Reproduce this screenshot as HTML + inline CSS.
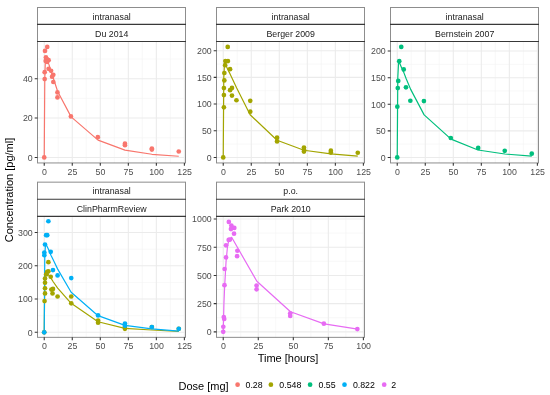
<!DOCTYPE html><html><head><meta charset="utf-8"><style>html,body{margin:0;padding:0;background:#fff;width:550px;height:395px;overflow:hidden}svg{display:block;will-change:transform}</style></head><body>
<svg width="550" height="395" viewBox="0 0 550 395" font-family='"Liberation Sans", sans-serif'>
<rect width="550" height="395" fill="#fff"/>
<clipPath id="c00"><rect x="37.5" y="41.45" width="148" height="121.5"/></clipPath>
<path d="M58.24 41.45V162.95M86.27 41.45V162.95M114.3 41.45V162.95M142.33 41.45V162.95M170.36 41.45V162.95M37.5 137.74H185.5M37.5 98.36H185.5M37.5 58.98H185.5" stroke="#F4F4F4" stroke-width="0.6" fill="none"/>
<path d="M44.23 41.45V162.95M72.26 41.45V162.95M100.29 41.45V162.95M128.32 41.45V162.95M156.35 41.45V162.95M184.38 41.45V162.95M37.5 157.43H185.5M37.5 118.05H185.5M37.5 78.67H185.5" stroke="#EBEBEB" stroke-width="1.07" fill="none"/>
<g clip-path="url(#c00)">
<path d="M44.23 157.43 L44.79 78.67 L45.35 60.95 L45.91 57.01 L46.47 57.01 L47.59 59.97 L48.71 63.91 L50.95 70.8 L53.2 77.69 L57.68 91.47 L71.14 116.87 L98.05 140.1 L124.95 150.14 L151.86 154.28 L178.77 156.25" stroke="#F8766D" stroke-width="1.2" fill="none" stroke-linejoin="round"/>
<circle cx="44.23" cy="157.43" r="2.35" fill="#F8766D"/>
<circle cx="47.25" cy="46.97" r="2.35" fill="#F8766D"/>
<circle cx="45.01" cy="50.91" r="2.35" fill="#F8766D"/>
<circle cx="45.91" cy="57.41" r="2.35" fill="#F8766D"/>
<circle cx="46.81" cy="58.98" r="2.35" fill="#F8766D"/>
<circle cx="48.6" cy="60.16" r="2.35" fill="#F8766D"/>
<circle cx="45.68" cy="60.95" r="2.35" fill="#F8766D"/>
<circle cx="47.14" cy="61.94" r="2.35" fill="#F8766D"/>
<circle cx="44.68" cy="72.17" r="2.35" fill="#F8766D"/>
<circle cx="44.68" cy="79.07" r="2.35" fill="#F8766D"/>
<circle cx="48.6" cy="68.83" r="2.35" fill="#F8766D"/>
<circle cx="51.07" cy="70.8" r="2.35" fill="#F8766D"/>
<circle cx="53.31" cy="74.73" r="2.35" fill="#F8766D"/>
<circle cx="52.08" cy="76.7" r="2.35" fill="#F8766D"/>
<circle cx="53.31" cy="82.02" r="2.35" fill="#F8766D"/>
<circle cx="57.46" cy="92.45" r="2.35" fill="#F8766D"/>
<circle cx="57.46" cy="97.38" r="2.35" fill="#F8766D"/>
<circle cx="70.91" cy="116.47" r="2.35" fill="#F8766D"/>
<circle cx="97.82" cy="137.15" r="2.35" fill="#F8766D"/>
<circle cx="124.95" cy="143.65" r="2.35" fill="#F8766D"/>
<circle cx="124.95" cy="145.22" r="2.35" fill="#F8766D"/>
<circle cx="151.86" cy="148.57" r="2.35" fill="#F8766D"/>
<circle cx="151.86" cy="149.55" r="2.35" fill="#F8766D"/>
<circle cx="178.77" cy="151.52" r="2.35" fill="#F8766D"/>
</g>
<rect x="37.5" y="7.5" width="148" height="155.45" fill="none" stroke="#333333" stroke-opacity="0.56" stroke-width="1"/>
<path d="M37 24.4H186M37 41.45H186" stroke="#383838" stroke-width="1.1" fill="none"/>
<text x="111.7" y="19.7" font-size="8.8" fill="#1A1A1A" text-anchor="middle">intranasal</text>
<text x="111.7" y="36.67" font-size="8.8" fill="#1A1A1A" text-anchor="middle">Du 2014</text>
<text x="44.43" y="174.85" font-size="8.8" fill="#4D4D4D" text-anchor="middle">0</text>
<text x="72.46" y="174.85" font-size="8.8" fill="#4D4D4D" text-anchor="middle">25</text>
<text x="100.49" y="174.85" font-size="8.8" fill="#4D4D4D" text-anchor="middle">50</text>
<text x="128.52" y="174.85" font-size="8.8" fill="#4D4D4D" text-anchor="middle">75</text>
<text x="156.55" y="174.85" font-size="8.8" fill="#4D4D4D" text-anchor="middle">100</text>
<text x="184.58" y="174.85" font-size="8.8" fill="#4D4D4D" text-anchor="middle">125</text>
<text x="32.7" y="160.78" font-size="8.8" fill="#4D4D4D" text-anchor="end">0</text>
<text x="32.7" y="121.4" font-size="8.8" fill="#4D4D4D" text-anchor="end">20</text>
<text x="32.7" y="82.02" font-size="8.8" fill="#4D4D4D" text-anchor="end">40</text>
<path d="M44.23 162.95V165.75M72.26 162.95V165.75M100.29 162.95V165.75M128.32 162.95V165.75M156.35 162.95V165.75M184.38 162.95V165.75M34.7 157.43H37.5M34.7 118.05H37.5M34.7 78.67H37.5" stroke="#333333" stroke-width="1.07" fill="none"/>
<clipPath id="c10"><rect x="216.5" y="41.45" width="148" height="121.5"/></clipPath>
<path d="M237.24 41.45V162.95M265.27 41.45V162.95M293.3 41.45V162.95M321.33 41.45V162.95M349.36 41.45V162.95M216.5 144.09H364.5M216.5 117.41H364.5M216.5 90.73H364.5M216.5 64.05H364.5" stroke="#F4F4F4" stroke-width="0.6" fill="none"/>
<path d="M223.23 41.45V162.95M251.26 41.45V162.95M279.29 41.45V162.95M307.32 41.45V162.95M335.35 41.45V162.95M363.38 41.45V162.95M216.5 157.43H364.5M216.5 130.75H364.5M216.5 104.07H364.5M216.5 77.39H364.5M216.5 50.71H364.5" stroke="#EBEBEB" stroke-width="1.07" fill="none"/>
<g clip-path="url(#c10)">
<path d="M223.23 157.43 L223.79 77.39 L224.35 66.72 L224.91 64.05 L225.47 64.05 L226.59 66.72 L227.71 69.38 L229.95 73.65 L232.2 78.45 L236.68 88.06 L250.14 114.74 L277.05 140.3 L303.95 150.22 L330.86 153.91 L357.77 156.09" stroke="#A3A500" stroke-width="1.2" fill="none" stroke-linejoin="round"/>
<circle cx="223.23" cy="157.43" r="2.35" fill="#A3A500"/>
<circle cx="227.71" cy="46.97" r="2.35" fill="#A3A500"/>
<circle cx="225.36" cy="61.11" r="2.35" fill="#A3A500"/>
<circle cx="227.94" cy="61.11" r="2.35" fill="#A3A500"/>
<circle cx="225.13" cy="65.22" r="2.35" fill="#A3A500"/>
<circle cx="230.07" cy="69.22" r="2.35" fill="#A3A500"/>
<circle cx="224.35" cy="73.01" r="2.35" fill="#A3A500"/>
<circle cx="224.35" cy="80.43" r="2.35" fill="#A3A500"/>
<circle cx="223.9" cy="88.11" r="2.35" fill="#A3A500"/>
<circle cx="230.07" cy="90.14" r="2.35" fill="#A3A500"/>
<circle cx="231.97" cy="87.9" r="2.35" fill="#A3A500"/>
<circle cx="223.9" cy="95.1" r="2.35" fill="#A3A500"/>
<circle cx="231.97" cy="95.53" r="2.35" fill="#A3A500"/>
<circle cx="236.46" cy="100.23" r="2.35" fill="#A3A500"/>
<circle cx="250.25" cy="100.81" r="2.35" fill="#A3A500"/>
<circle cx="223.9" cy="107.32" r="2.35" fill="#A3A500"/>
<circle cx="250.25" cy="111.7" r="2.35" fill="#A3A500"/>
<circle cx="277.05" cy="137.63" r="2.35" fill="#A3A500"/>
<circle cx="277.05" cy="141.47" r="2.35" fill="#A3A500"/>
<circle cx="303.95" cy="147.5" r="2.35" fill="#A3A500"/>
<circle cx="303.95" cy="149.42" r="2.35" fill="#A3A500"/>
<circle cx="303.95" cy="151.61" r="2.35" fill="#A3A500"/>
<circle cx="330.86" cy="150.7" r="2.35" fill="#A3A500"/>
<circle cx="330.86" cy="152.62" r="2.35" fill="#A3A500"/>
<circle cx="357.77" cy="152.73" r="2.35" fill="#A3A500"/>
</g>
<rect x="216.5" y="7.5" width="148" height="155.45" fill="none" stroke="#333333" stroke-opacity="0.56" stroke-width="1"/>
<path d="M216 24.4H365M216 41.45H365" stroke="#383838" stroke-width="1.1" fill="none"/>
<text x="290.7" y="19.7" font-size="8.8" fill="#1A1A1A" text-anchor="middle">intranasal</text>
<text x="290.7" y="36.67" font-size="8.8" fill="#1A1A1A" text-anchor="middle">Berger 2009</text>
<text x="223.43" y="174.85" font-size="8.8" fill="#4D4D4D" text-anchor="middle">0</text>
<text x="251.46" y="174.85" font-size="8.8" fill="#4D4D4D" text-anchor="middle">25</text>
<text x="279.49" y="174.85" font-size="8.8" fill="#4D4D4D" text-anchor="middle">50</text>
<text x="307.52" y="174.85" font-size="8.8" fill="#4D4D4D" text-anchor="middle">75</text>
<text x="335.55" y="174.85" font-size="8.8" fill="#4D4D4D" text-anchor="middle">100</text>
<text x="363.58" y="174.85" font-size="8.8" fill="#4D4D4D" text-anchor="middle">125</text>
<text x="211.7" y="160.78" font-size="8.8" fill="#4D4D4D" text-anchor="end">0</text>
<text x="211.7" y="134.1" font-size="8.8" fill="#4D4D4D" text-anchor="end">50</text>
<text x="211.7" y="107.42" font-size="8.8" fill="#4D4D4D" text-anchor="end">100</text>
<text x="211.7" y="80.74" font-size="8.8" fill="#4D4D4D" text-anchor="end">150</text>
<text x="211.7" y="54.06" font-size="8.8" fill="#4D4D4D" text-anchor="end">200</text>
<path d="M223.23 162.95V165.75M251.26 162.95V165.75M279.29 162.95V165.75M307.32 162.95V165.75M335.35 162.95V165.75M363.38 162.95V165.75M213.7 157.43H216.5M213.7 130.75H216.5M213.7 104.07H216.5M213.7 77.39H216.5M213.7 50.71H216.5" stroke="#333333" stroke-width="1.07" fill="none"/>
<clipPath id="c20"><rect x="390.5" y="41.45" width="148" height="121.5"/></clipPath>
<path d="M411.24 41.45V162.95M439.27 41.45V162.95M467.3 41.45V162.95M495.33 41.45V162.95M523.36 41.45V162.95M390.5 144.13H538.5M390.5 117.54H538.5M390.5 90.95H538.5M390.5 64.36H538.5" stroke="#F4F4F4" stroke-width="0.6" fill="none"/>
<path d="M397.23 41.45V162.95M425.26 41.45V162.95M453.29 41.45V162.95M481.32 41.45V162.95M509.35 41.45V162.95M537.38 41.45V162.95M390.5 157.43H538.5M390.5 130.84H538.5M390.5 104.25H538.5M390.5 77.66H538.5M390.5 51.07H538.5" stroke="#EBEBEB" stroke-width="1.07" fill="none"/>
<g clip-path="url(#c20)">
<path d="M397.23 157.43 L397.79 77.66 L398.57 62.24 L399.47 62.77 L401.71 68.09 L403.95 72.87 L406.2 78.72 L410.68 89.36 L424.14 114.88 L451.05 139.13 L477.95 149.98 L504.86 154.02 L531.77 156.15" stroke="#00BF7D" stroke-width="1.2" fill="none" stroke-linejoin="round"/>
<circle cx="397.23" cy="157.43" r="2.35" fill="#00BF7D"/>
<circle cx="401.26" cy="46.97" r="2.35" fill="#00BF7D"/>
<circle cx="399.25" cy="61.17" r="2.35" fill="#00BF7D"/>
<circle cx="403.73" cy="69.41" r="2.35" fill="#00BF7D"/>
<circle cx="398.24" cy="80.95" r="2.35" fill="#00BF7D"/>
<circle cx="397.79" cy="88.03" r="2.35" fill="#00BF7D"/>
<circle cx="405.97" cy="87.34" r="2.35" fill="#00BF7D"/>
<circle cx="410.35" cy="100.74" r="2.35" fill="#00BF7D"/>
<circle cx="423.91" cy="101.06" r="2.35" fill="#00BF7D"/>
<circle cx="397.34" cy="106.64" r="2.35" fill="#00BF7D"/>
<circle cx="450.82" cy="138.02" r="2.35" fill="#00BF7D"/>
<circle cx="478.18" cy="147.91" r="2.35" fill="#00BF7D"/>
<circle cx="504.75" cy="150.83" r="2.35" fill="#00BF7D"/>
<circle cx="531.77" cy="153.65" r="2.35" fill="#00BF7D"/>
</g>
<rect x="390.5" y="7.5" width="148" height="155.45" fill="none" stroke="#333333" stroke-opacity="0.56" stroke-width="1"/>
<path d="M390 24.4H539M390 41.45H539" stroke="#383838" stroke-width="1.1" fill="none"/>
<text x="464.7" y="19.7" font-size="8.8" fill="#1A1A1A" text-anchor="middle">intranasal</text>
<text x="464.7" y="36.67" font-size="8.8" fill="#1A1A1A" text-anchor="middle">Bernstein 2007</text>
<text x="397.43" y="174.85" font-size="8.8" fill="#4D4D4D" text-anchor="middle">0</text>
<text x="425.46" y="174.85" font-size="8.8" fill="#4D4D4D" text-anchor="middle">25</text>
<text x="453.49" y="174.85" font-size="8.8" fill="#4D4D4D" text-anchor="middle">50</text>
<text x="481.52" y="174.85" font-size="8.8" fill="#4D4D4D" text-anchor="middle">75</text>
<text x="509.55" y="174.85" font-size="8.8" fill="#4D4D4D" text-anchor="middle">100</text>
<text x="537.58" y="174.85" font-size="8.8" fill="#4D4D4D" text-anchor="middle">125</text>
<text x="385.7" y="160.78" font-size="8.8" fill="#4D4D4D" text-anchor="end">0</text>
<text x="385.7" y="134.19" font-size="8.8" fill="#4D4D4D" text-anchor="end">50</text>
<text x="385.7" y="107.6" font-size="8.8" fill="#4D4D4D" text-anchor="end">100</text>
<text x="385.7" y="81.01" font-size="8.8" fill="#4D4D4D" text-anchor="end">150</text>
<text x="385.7" y="54.42" font-size="8.8" fill="#4D4D4D" text-anchor="end">200</text>
<path d="M397.23 162.95V165.75M425.26 162.95V165.75M453.29 162.95V165.75M481.32 162.95V165.75M509.35 162.95V165.75M537.38 162.95V165.75M387.7 157.43H390.5M387.7 130.84H390.5M387.7 104.25H390.5M387.7 77.66H390.5M387.7 51.07H390.5" stroke="#333333" stroke-width="1.07" fill="none"/>
<clipPath id="c01"><rect x="37.5" y="216.35" width="148" height="121"/></clipPath>
<path d="M58.24 216.35V337.35M86.27 216.35V337.35M114.3 216.35V337.35M142.33 216.35V337.35M170.36 216.35V337.35M37.5 315.68H185.5M37.5 282.43H185.5M37.5 249.18H185.5" stroke="#F4F4F4" stroke-width="0.6" fill="none"/>
<path d="M44.23 216.35V337.35M72.26 216.35V337.35M100.29 216.35V337.35M128.32 216.35V337.35M156.35 216.35V337.35M184.38 216.35V337.35M37.5 332.3H185.5M37.5 299.05H185.5M37.5 265.8H185.5M37.5 232.55H185.5" stroke="#EBEBEB" stroke-width="1.07" fill="none"/>
<g clip-path="url(#c01)">
<path d="M44.23 332.3 L44.79 279.1 L45.57 271.12 L46.47 272.12 L48.71 275.11 L50.95 278.1 L53.2 281.76 L57.68 288.08 L71.14 303.37 L98.05 321.79 L124.95 328.31 L151.86 330.01 L178.77 331.4" stroke="#A3A500" stroke-width="1.2" fill="none" stroke-linejoin="round"/>
<path d="M44.23 332.3 L44.79 255.82 L45.57 243.52 L46.47 245.19 L48.71 249.84 L50.95 255.16 L53.2 259.81 L57.68 269.12 L71.14 292.27 L98.05 315.68 L124.95 325.32 L151.86 328.81 L178.77 331.1" stroke="#00B0F6" stroke-width="1.2" fill="none" stroke-linejoin="round"/>
<circle cx="44.23" cy="332.3" r="2.35" fill="#A3A500"/>
<circle cx="48.38" cy="262.14" r="2.35" fill="#A3A500"/>
<circle cx="47.37" cy="271.79" r="2.35" fill="#A3A500"/>
<circle cx="48.38" cy="271.29" r="2.35" fill="#A3A500"/>
<circle cx="46.13" cy="274.44" r="2.35" fill="#A3A500"/>
<circle cx="50.73" cy="276.77" r="2.35" fill="#A3A500"/>
<circle cx="45.01" cy="278.6" r="2.35" fill="#A3A500"/>
<circle cx="45.01" cy="282.76" r="2.35" fill="#A3A500"/>
<circle cx="45.01" cy="288.24" r="2.35" fill="#A3A500"/>
<circle cx="51.4" cy="289.54" r="2.35" fill="#A3A500"/>
<circle cx="52.97" cy="288.94" r="2.35" fill="#A3A500"/>
<circle cx="52.52" cy="293.4" r="2.35" fill="#A3A500"/>
<circle cx="45.01" cy="293.4" r="2.35" fill="#A3A500"/>
<circle cx="57.57" cy="296.49" r="2.35" fill="#A3A500"/>
<circle cx="71.25" cy="296.49" r="2.35" fill="#A3A500"/>
<circle cx="71.25" cy="303.31" r="2.35" fill="#A3A500"/>
<circle cx="44.56" cy="301.05" r="2.35" fill="#A3A500"/>
<circle cx="98.05" cy="320.6" r="2.35" fill="#A3A500"/>
<circle cx="98.05" cy="322.69" r="2.35" fill="#A3A500"/>
<circle cx="124.95" cy="327.01" r="2.35" fill="#A3A500"/>
<circle cx="124.95" cy="328.81" r="2.35" fill="#A3A500"/>
<circle cx="151.86" cy="327.01" r="2.35" fill="#A3A500"/>
<circle cx="178.77" cy="328.81" r="2.35" fill="#A3A500"/>
<circle cx="44.23" cy="332.3" r="2.35" fill="#00B0F6"/>
<circle cx="48.38" cy="221.25" r="2.35" fill="#00B0F6"/>
<circle cx="46.13" cy="235.21" r="2.35" fill="#00B0F6"/>
<circle cx="47.25" cy="235.21" r="2.35" fill="#00B0F6"/>
<circle cx="45.01" cy="244.52" r="2.35" fill="#00B0F6"/>
<circle cx="44.34" cy="252.5" r="2.35" fill="#00B0F6"/>
<circle cx="44.34" cy="255.16" r="2.35" fill="#00B0F6"/>
<circle cx="50.73" cy="251.84" r="2.35" fill="#00B0F6"/>
<circle cx="52.97" cy="270.12" r="2.35" fill="#00B0F6"/>
<circle cx="57.57" cy="275.44" r="2.35" fill="#00B0F6"/>
<circle cx="71.25" cy="278.1" r="2.35" fill="#00B0F6"/>
<circle cx="98.05" cy="315.41" r="2.35" fill="#00B0F6"/>
<circle cx="124.95" cy="323.59" r="2.35" fill="#00B0F6"/>
<circle cx="124.95" cy="325.65" r="2.35" fill="#00B0F6"/>
<circle cx="151.86" cy="327.01" r="2.35" fill="#00B0F6"/>
<circle cx="178.77" cy="328.81" r="2.35" fill="#00B0F6"/>
</g>
<rect x="37.5" y="182.15" width="148" height="155.2" fill="none" stroke="#333333" stroke-opacity="0.56" stroke-width="1"/>
<path d="M37 199.25H186M37 216.35H186" stroke="#383838" stroke-width="1.1" fill="none"/>
<text x="111.7" y="194.45" font-size="8.8" fill="#1A1A1A" text-anchor="middle">intranasal</text>
<text x="111.7" y="211.55" font-size="8.8" fill="#1A1A1A" text-anchor="middle">ClinPharmReview</text>
<text x="44.43" y="349.25" font-size="8.8" fill="#4D4D4D" text-anchor="middle">0</text>
<text x="72.46" y="349.25" font-size="8.8" fill="#4D4D4D" text-anchor="middle">25</text>
<text x="100.49" y="349.25" font-size="8.8" fill="#4D4D4D" text-anchor="middle">50</text>
<text x="128.52" y="349.25" font-size="8.8" fill="#4D4D4D" text-anchor="middle">75</text>
<text x="156.55" y="349.25" font-size="8.8" fill="#4D4D4D" text-anchor="middle">100</text>
<text x="184.58" y="349.25" font-size="8.8" fill="#4D4D4D" text-anchor="middle">125</text>
<text x="32.7" y="335.65" font-size="8.8" fill="#4D4D4D" text-anchor="end">0</text>
<text x="32.7" y="302.4" font-size="8.8" fill="#4D4D4D" text-anchor="end">100</text>
<text x="32.7" y="269.15" font-size="8.8" fill="#4D4D4D" text-anchor="end">200</text>
<text x="32.7" y="235.9" font-size="8.8" fill="#4D4D4D" text-anchor="end">300</text>
<path d="M44.23 337.35V340.15M72.26 337.35V340.15M100.29 337.35V340.15M128.32 337.35V340.15M156.35 337.35V340.15M184.38 337.35V340.15M34.7 332.3H37.5M34.7 299.05H37.5M34.7 265.8H37.5M34.7 232.55H37.5" stroke="#333333" stroke-width="1.07" fill="none"/>
<clipPath id="c11"><rect x="216.5" y="216.35" width="148" height="121"/></clipPath>
<path d="M240.75 216.35V337.35M275.78 216.35V337.35M310.82 216.35V337.35M345.86 216.35V337.35M216.5 317.75H364.5M216.5 289.54H364.5M216.5 261.34H364.5M216.5 233.13H364.5" stroke="#F4F4F4" stroke-width="0.6" fill="none"/>
<path d="M223.23 216.35V337.35M258.27 216.35V337.35M293.3 216.35V337.35M328.34 216.35V337.35M363.38 216.35V337.35M216.5 331.85H364.5M216.5 303.64H364.5M216.5 275.44H364.5M216.5 247.23H364.5M216.5 219.03H364.5" stroke="#EBEBEB" stroke-width="1.07" fill="none"/>
<g clip-path="url(#c11)">
<path d="M223.23 331.85 L223.93 303.64 L224.63 286.72 L226.03 261.9 L227.43 247.23 L228.83 239.9 L231.64 237.31 L256.86 281.31 L290.5 311.77 L324.14 323.84 L357.77 329.14" stroke="#E76BF3" stroke-width="1.2" fill="none" stroke-linejoin="round"/>
<circle cx="223.23" cy="331.85" r="2.35" fill="#E76BF3"/>
<circle cx="223.3" cy="326.77" r="2.35" fill="#E76BF3"/>
<circle cx="223.79" cy="317.07" r="2.35" fill="#E76BF3"/>
<circle cx="224.21" cy="318.88" r="2.35" fill="#E76BF3"/>
<circle cx="224.49" cy="285.14" r="2.35" fill="#E76BF3"/>
<circle cx="224.63" cy="269.01" r="2.35" fill="#E76BF3"/>
<circle cx="226.03" cy="257.39" r="2.35" fill="#E76BF3"/>
<circle cx="226.03" cy="245.32" r="2.35" fill="#E76BF3"/>
<circle cx="228.69" cy="239.9" r="2.35" fill="#E76BF3"/>
<circle cx="229.95" cy="239.56" r="2.35" fill="#E76BF3"/>
<circle cx="228.83" cy="221.96" r="2.35" fill="#E76BF3"/>
<circle cx="231.36" cy="225.57" r="2.35" fill="#E76BF3"/>
<circle cx="231.78" cy="227.94" r="2.35" fill="#E76BF3"/>
<circle cx="234.3" cy="227.94" r="2.35" fill="#E76BF3"/>
<circle cx="230.94" cy="229.07" r="2.35" fill="#E76BF3"/>
<circle cx="234.02" cy="233.7" r="2.35" fill="#E76BF3"/>
<circle cx="237.38" cy="250.73" r="2.35" fill="#E76BF3"/>
<circle cx="237.1" cy="256.15" r="2.35" fill="#E76BF3"/>
<circle cx="256.58" cy="285.48" r="2.35" fill="#E76BF3"/>
<circle cx="256.58" cy="289.32" r="2.35" fill="#E76BF3"/>
<circle cx="290.22" cy="313.35" r="2.35" fill="#E76BF3"/>
<circle cx="290.22" cy="315.94" r="2.35" fill="#E76BF3"/>
<circle cx="323.86" cy="323.65" r="2.35" fill="#E76BF3"/>
<circle cx="357.35" cy="329.03" r="2.35" fill="#E76BF3"/>
</g>
<rect x="216.5" y="182.15" width="148" height="155.2" fill="none" stroke="#333333" stroke-opacity="0.56" stroke-width="1"/>
<path d="M216 199.25H365M216 216.35H365" stroke="#383838" stroke-width="1.1" fill="none"/>
<text x="290.7" y="194.45" font-size="8.8" fill="#1A1A1A" text-anchor="middle">p.o.</text>
<text x="290.7" y="211.55" font-size="8.8" fill="#1A1A1A" text-anchor="middle">Park 2010</text>
<text x="223.43" y="349.25" font-size="8.8" fill="#4D4D4D" text-anchor="middle">0</text>
<text x="258.47" y="349.25" font-size="8.8" fill="#4D4D4D" text-anchor="middle">25</text>
<text x="293.5" y="349.25" font-size="8.8" fill="#4D4D4D" text-anchor="middle">50</text>
<text x="328.54" y="349.25" font-size="8.8" fill="#4D4D4D" text-anchor="middle">75</text>
<text x="363.58" y="349.25" font-size="8.8" fill="#4D4D4D" text-anchor="middle">100</text>
<text x="211.7" y="335.2" font-size="8.8" fill="#4D4D4D" text-anchor="end">0</text>
<text x="211.7" y="306.99" font-size="8.8" fill="#4D4D4D" text-anchor="end">250</text>
<text x="211.7" y="278.79" font-size="8.8" fill="#4D4D4D" text-anchor="end">500</text>
<text x="211.7" y="250.58" font-size="8.8" fill="#4D4D4D" text-anchor="end">750</text>
<text x="211.7" y="222.38" font-size="8.8" fill="#4D4D4D" text-anchor="end">1000</text>
<path d="M223.23 337.35V340.15M258.27 337.35V340.15M293.3 337.35V340.15M328.34 337.35V340.15M363.38 337.35V340.15M213.7 331.85H216.5M213.7 303.64H216.5M213.7 275.44H216.5M213.7 247.23H216.5M213.7 219.03H216.5" stroke="#333333" stroke-width="1.07" fill="none"/>
<text x="288" y="362.3" font-size="11" fill="#000" text-anchor="middle">Time [hours]</text>
<text transform="translate(12.6 190) rotate(-90)" font-size="11" fill="#000" text-anchor="middle">Concentration [pg/ml]</text>
<text x="178.5" y="390" font-size="11" fill="#000">Dose [mg]</text>
<circle cx="237.6" cy="384.7" r="2.35" fill="#F8766D"/>
<text x="245.5" y="387.5" font-size="8.8" fill="#000">0.28</text>
<circle cx="270.9" cy="384.7" r="2.35" fill="#A3A500"/>
<text x="279.3" y="387.5" font-size="8.8" fill="#000">0.548</text>
<circle cx="310.1" cy="384.7" r="2.35" fill="#00BF7D"/>
<text x="318.5" y="387.5" font-size="8.8" fill="#000">0.55</text>
<circle cx="344.5" cy="384.7" r="2.35" fill="#00B0F6"/>
<text x="352.9" y="387.5" font-size="8.8" fill="#000">0.822</text>
<circle cx="384.2" cy="384.7" r="2.35" fill="#E76BF3"/>
<text x="391.3" y="387.5" font-size="8.8" fill="#000">2</text>
</svg></body></html>
